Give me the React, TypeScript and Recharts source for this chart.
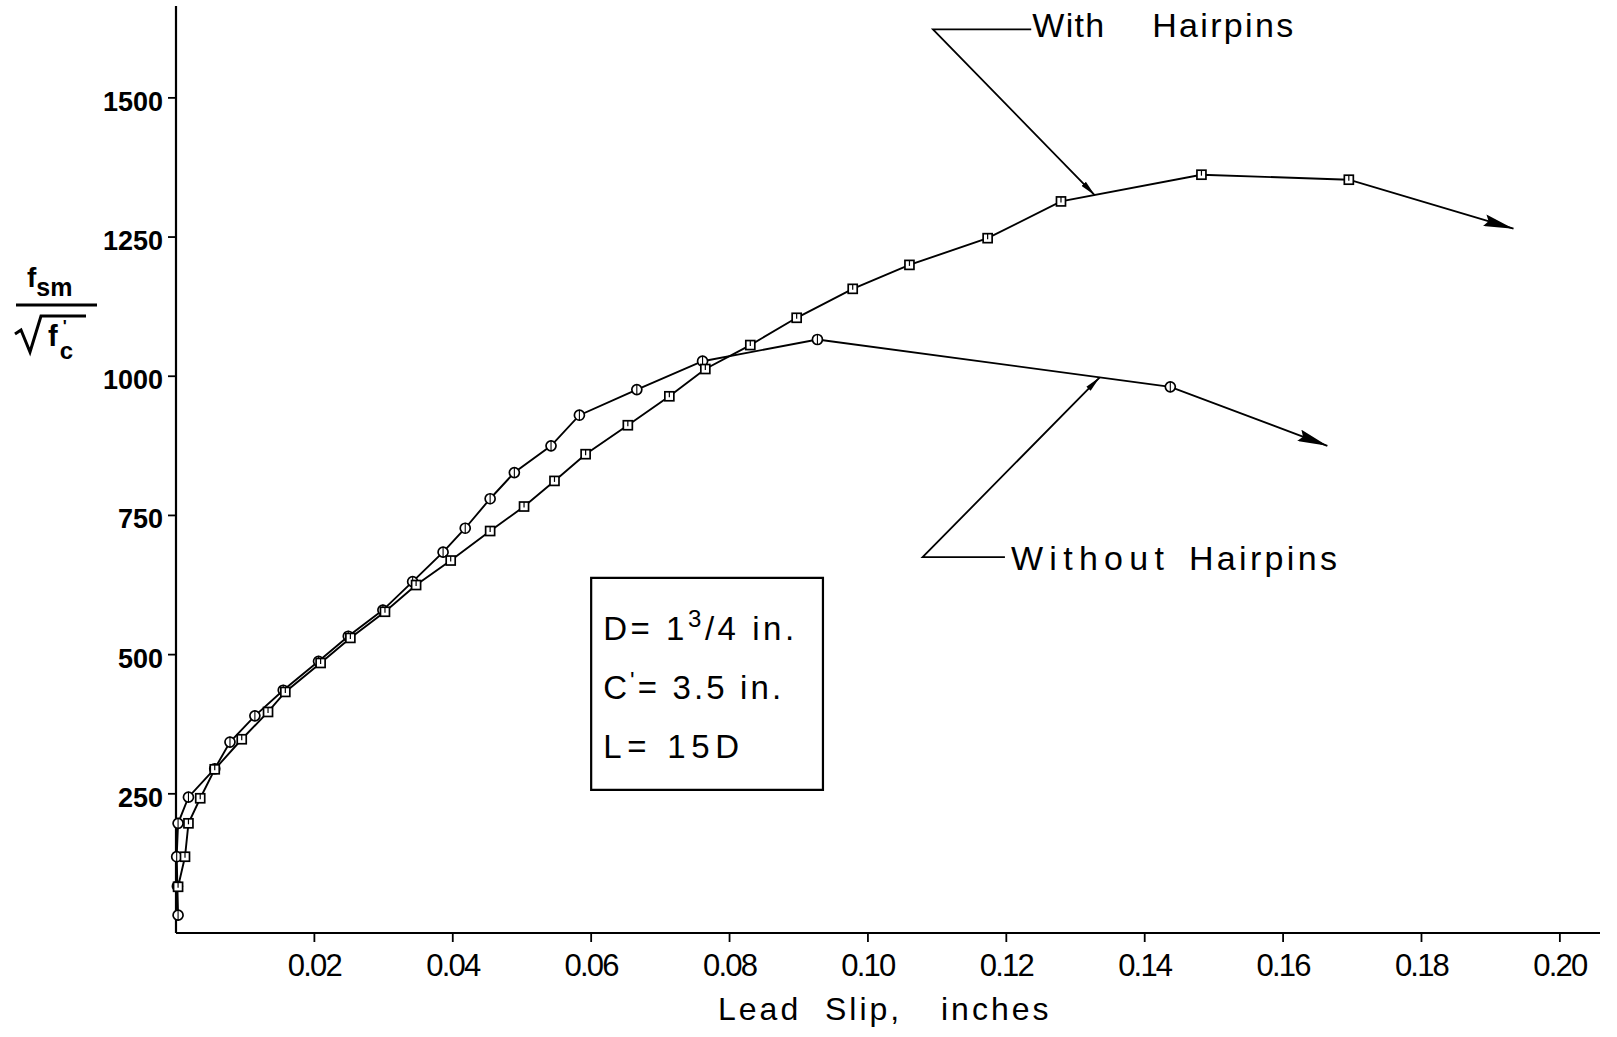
import { LineChart, Line, XAxis, YAxis, ReferenceArea, ReferenceDot } from "recharts";

const FONT = "'Liberation Sans', Arial, sans-serif";
const INK = "#000";

// Lead slip (in.) vs f_sm / sqrt(f'c)
const withSlip = [
  0.0003, 0.0013, 0.0018, 0.0035, 0.0056, 0.0095, 0.0133, 0.0158, 0.0209, 0.0252,
  0.0302, 0.0347, 0.0397, 0.0454, 0.0503, 0.0547, 0.0592, 0.0653, 0.0713, 0.0765,
  0.083, 0.0897, 0.0978, 0.106, 0.1173, 0.1279, 0.1482, 0.1695,
];
const withStress = [
  83, 137, 197, 242, 294, 348, 397, 433, 485, 530,
  577, 625, 669, 722, 766, 812, 860, 912, 964, 1013,
  1056, 1105, 1157, 1200, 1248, 1314, 1362, 1353,
];

const withoutSlip = [
  0.0003, 0.0002, 0.0001, 0.0003, 0.0018, 0.0056, 0.0078, 0.0114, 0.0155, 0.0206,
  0.0249, 0.0299, 0.0342, 0.0386, 0.0418, 0.0454, 0.0489, 0.0542, 0.0583, 0.0666,
  0.0761, 0.0927, 0.1437,
];
const withoutStress = [
  32, 84, 137, 197, 244, 295, 343, 390, 436, 488,
  533, 580, 631, 684, 727, 780, 827, 875, 930, 976,
  1027, 1066, 981,
];

// the drawn curves run on past the last test point and end in an arrow
const withTail = { x: 0.1933, y: 1265 };
const withoutTail = { x: 0.1664, y: 875 };

const slipTicks = [0.02, 0.04, 0.06, 0.08, 0.1, 0.12, 0.14, 0.16, 0.18, 0.2];
const stressTicks = [250, 500, 750, 1000, 1250, 1500];

// label leaders: end of label rule -> elbow -> arrow tip on the curve
const withLeaderX = [0.1236, 0.1094, 0.1328];
const withLeaderY = [1623, 1623, 1325];
const withoutLeaderX = [0.1198, 0.1079, 0.1335];
const withoutLeaderY = [675, 675, 998];

const toPoints = (xs: number[], ys: number[]) => xs.map((x, i) => ({ x, y: ys[i] }));

const withData = [...toPoints(withSlip, withStress), { ...withTail, tip: true }];
const withoutData = [...toPoints(withoutSlip, withoutStress), { ...withoutTail, tip: true }];
const withLeader = toPoints(withLeaderX, withLeaderY);
const withoutLeader = toPoints(withoutLeaderX, withoutLeaderY);

function squareDot(props: any) {
  const { cx, cy, index, payload } = props;
  if (payload?.tip || cx == null) return <g key={`sq-${index}`} />;
  return (
    <g key={`sq-${index}`}>
      <rect x={cx - 4.5} y={cy - 4.5} width={9} height={9} fill="#fff" stroke={INK} strokeWidth={1.7} />
      <line x1={cx} y1={cy - 4.5} x2={cx} y2={cy + 1} stroke={INK} strokeWidth={1.2} />
    </g>
  );
}

function circleDot(props: any) {
  const { cx, cy, index, payload } = props;
  if (payload?.tip || cx == null) return <g key={`ci-${index}`} />;
  return (
    <g key={`ci-${index}`}>
      <circle cx={cx} cy={cy} r={5} fill="#fff" stroke={INK} strokeWidth={1.7} />
      <line x1={cx} y1={cy - 5.5} x2={cx} y2={cy + 5.5} stroke={INK} strokeWidth={1.1} />
    </g>
  );
}

function YTick({ x, y, payload }: any) {
  return (
    <text x={x} y={y} dy={13} textAnchor="end" fontFamily={FONT} fontSize={27} fontWeight={700} fill={INK}>
      {payload.value}
    </text>
  );
}

function XTick({ x, y, payload }: any) {
  return (
    <text x={x} y={y} dy={34} textAnchor="middle" fontFamily={FONT} fontSize={31} letterSpacing={-1.8} fill={INK}>
      {Number(payload.value).toFixed(2)}
    </text>
  );
}

function StressLabel({ viewBox }: any) {
  const x = viewBox.x;
  const y = viewBox.y - 6;
  return (
    <g fontFamily={FONT} fontWeight={700} fill={INK}>
      <text x={x + 27} y={y + 287} fontSize={28}>
        f<tspan fontSize={25} dy={9}>sm</tspan>
      </text>
      <line x1={x + 16} y1={y + 305} x2={x + 97} y2={y + 305} stroke={INK} strokeWidth={3} />
      <path
        d={`M${x + 15},${y + 334} L${x + 21},${y + 330} L${x + 30},${y + 352} L${x + 41},${y + 316} L${x + 86},${y + 316}`}
        fill="none"
        stroke={INK}
        strokeWidth={3}
      />
      <text x={x + 48} y={y + 346} fontSize={29}>
        f<tspan fontSize={17} dx={5} dy={-14}>'</tspan>
        <tspan fontSize={24} dx={-7} dy={27}>c</tspan>
      </text>
    </g>
  );
}

function SlipLabel({ viewBox }: any) {
  const x = viewBox.x;
  const y = viewBox.y + 87;
  return (
    <text y={y} fontFamily={FONT} fontSize={32} letterSpacing={3} fill={INK}>
      <tspan x={x + 542}>Lead</tspan>
      <tspan x={x + 649}>Slip,</tspan>
      <tspan x={x + 765}>inches</tspan>
    </text>
  );
}

function NotesText({ viewBox }: any) {
  const tx = viewBox.x + 12;
  const y = viewBox.y;
  return (
    <g fontFamily={FONT} fontSize={33} fill={INK}>
      <text x={tx} y={y + 62} textLength={191} lengthAdjust="spacing">
        D= 1<tspan fontSize={24} dy={-13}>3</tspan>
        <tspan dy={13}>/4 in.</tspan>
      </text>
      <text x={tx} y={y + 121} textLength={178} lengthAdjust="spacing">
        C<tspan fontSize={24} dy={-10}>'</tspan>
        <tspan dy={10}>= 3.5 in.</tspan>
      </text>
      <text x={tx} y={y + 180} textLength={136} lengthAdjust="spacing">
        L= 15D
      </text>
    </g>
  );
}

function CurveName(parts: { text: string; dx: number; len: number }[], dy: number) {
  return (props: any) => (
    <g fontFamily={FONT} fontSize={34} fill={INK}>
      {parts.map((p) => (
        <text key={p.text} x={props.cx + p.dx} y={props.cy + dy} textLength={p.len} lengthAdjust="spacing">
          {p.text}
        </text>
      ))}
    </g>
  );
}

const withName = CurveName(
  [
    { text: "With", dx: 1, len: 72 },
    { text: "Hairpins", dx: 121, len: 141 },
  ],
  8
);
const withoutName = CurveName(
  [
    { text: "Without", dx: 6, len: 153 },
    { text: "Hairpins", dx: 184, len: 148 },
  ],
  13
);

export default function App() {
  return (
    <div style={{ width: 1617, height: 1037, background: "#fff" }}>
      <style>{"body{margin:0;background:#fff}"}</style>
      <LineChart width={1617} height={1037} margin={{ top: 6, right: 17, bottom: 0, left: 0 }}>
        <defs>
          <marker
            id="curveTip"
            viewBox="0 0 30 12"
            refX={30}
            refY={6}
            markerWidth={30}
            markerHeight={12}
            markerUnits="userSpaceOnUse"
            orient="auto"
          >
            <path d="M0,0 L30,6 L0,12 L4,6 Z" fill={INK} />
          </marker>
          <marker
            id="leaderTip"
            viewBox="0 0 16 6"
            refX={16}
            refY={3}
            markerWidth={16}
            markerHeight={6}
            markerUnits="userSpaceOnUse"
            orient="auto"
          >
            <path d="M0,0 L16,3 L0,6 Z" fill={INK} />
          </marker>
        </defs>
        <XAxis
          type="number"
          dataKey="x"
          domain={[0, 0.2058]}
          ticks={slipTicks}
          height={104}
          tickSize={9}
          tickMargin={0}
          axisLine={{ stroke: INK, strokeWidth: 2 }}
          tickLine={{ stroke: INK, strokeWidth: 1.8 }}
          tick={<XTick />}
          label={SlipLabel}
        />
        <YAxis
          type="number"
          dataKey="y"
          domain={[0, 1665]}
          ticks={stressTicks}
          width={176}
          tickSize={8}
          tickMargin={5}
          axisLine={{ stroke: INK, strokeWidth: 2.2 }}
          tickLine={{ stroke: INK, strokeWidth: 1.8 }}
          tick={<YTick />}
          label={StressLabel}
        />
        <ReferenceArea
          x1={0.06}
          x2={0.0935}
          y1={257}
          y2={638}
          fill="none"
          stroke={INK}
          strokeWidth={2.2}
          ifOverflow="visible"
          label={NotesText}
        />
        <Line
          data={withoutLeader}
          dataKey="y"
          type="linear"
          stroke={INK}
          strokeWidth={1.8}
          dot={false}
          activeDot={false}
          markerEnd="url(#leaderTip)"
          isAnimationActive={false}
        />
        <Line
          data={withLeader}
          dataKey="y"
          type="linear"
          stroke={INK}
          strokeWidth={1.8}
          dot={false}
          activeDot={false}
          markerEnd="url(#leaderTip)"
          isAnimationActive={false}
        />
        <Line
          data={withoutData}
          dataKey="y"
          type="linear"
          stroke={INK}
          strokeWidth={1.9}
          dot={circleDot}
          activeDot={false}
          markerEnd="url(#curveTip)"
          isAnimationActive={false}
        />
        <Line
          data={withData}
          dataKey="y"
          type="linear"
          stroke={INK}
          strokeWidth={1.9}
          dot={squareDot}
          activeDot={false}
          markerEnd="url(#curveTip)"
          isAnimationActive={false}
        />
        <ReferenceDot x={withLeaderX[0]} y={withLeaderY[0]} r={0} ifOverflow="visible" shape={withName} />
        <ReferenceDot x={withoutLeaderX[0]} y={withoutLeaderY[0]} r={0} ifOverflow="visible" shape={withoutName} />
      </LineChart>
    </div>
  );
}
